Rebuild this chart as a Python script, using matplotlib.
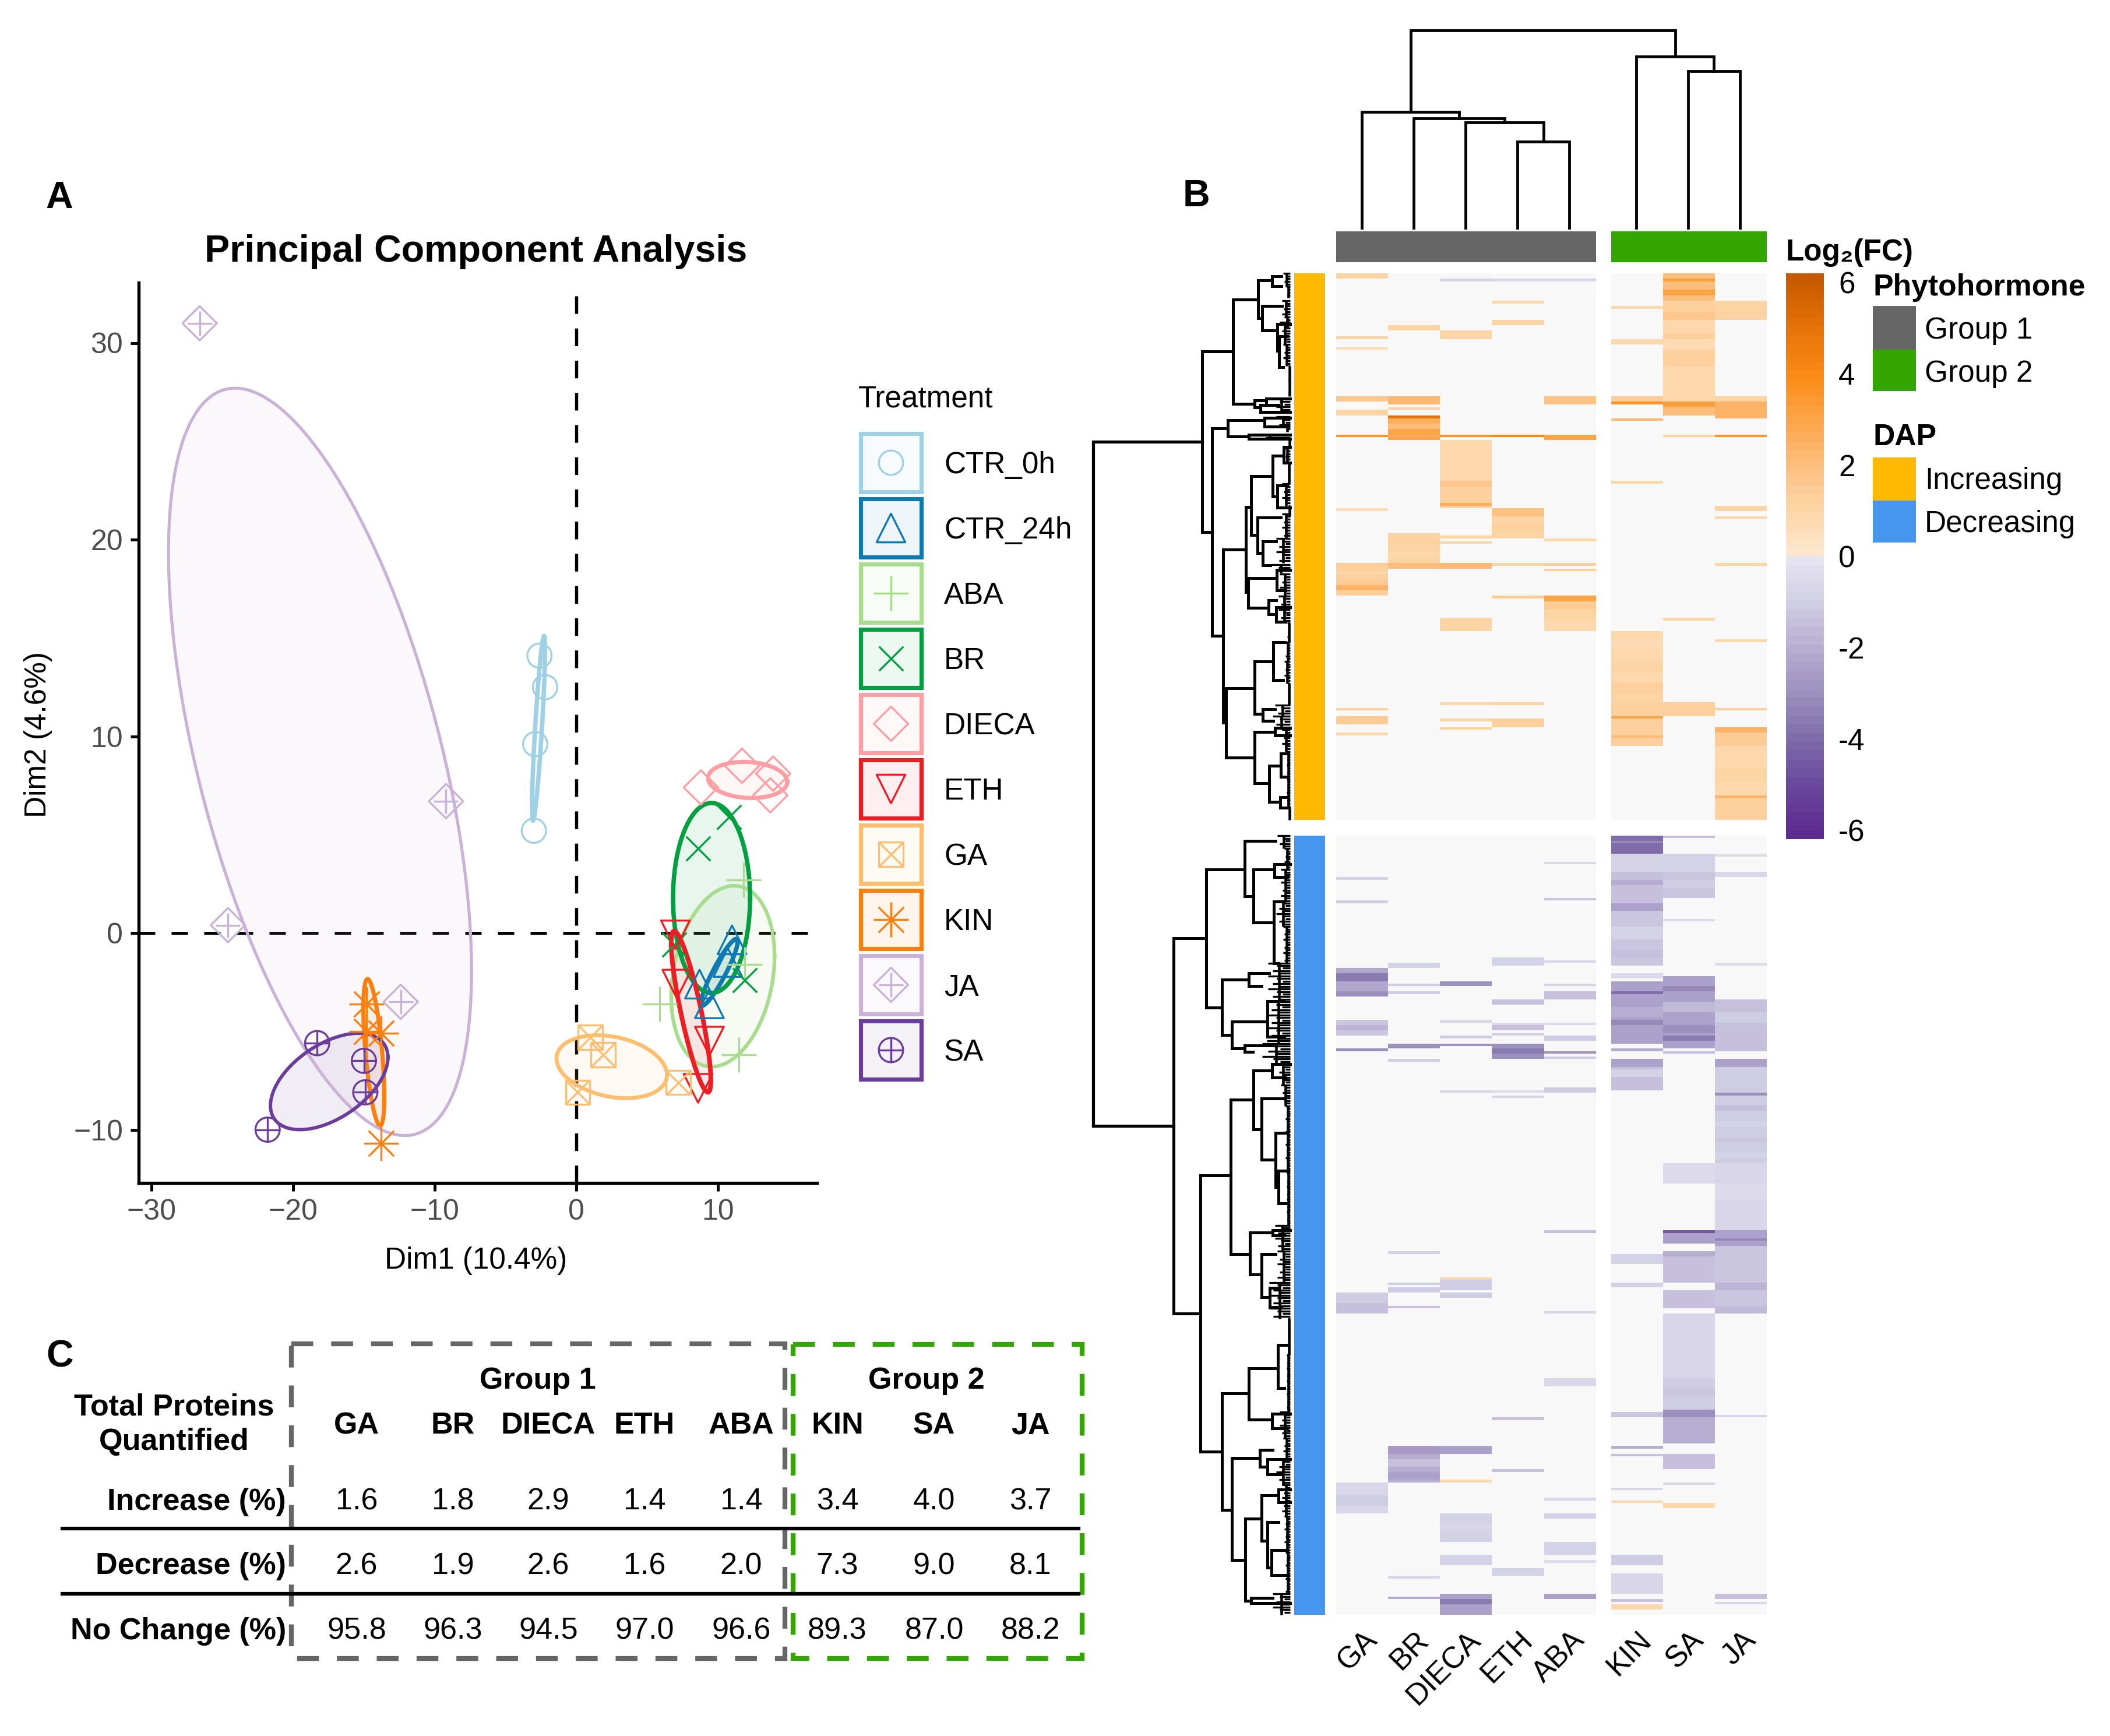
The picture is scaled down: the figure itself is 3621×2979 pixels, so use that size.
import numpy as np
import matplotlib
matplotlib.use('Agg')
import matplotlib.pyplot as plt
from matplotlib.colors import LinearSegmentedColormap, Normalize
from matplotlib.patches import Rectangle

plt.rcParams['font.family'] = ['Liberation Sans', 'DejaVu Sans']

W, H = 3621, 2979

# ---- PCA data
treatments = ['CTR_0h', 'CTR_24h', 'ABA', 'BR', 'DIECA', 'ETH', 'GA', 'KIN', 'JA', 'SA']
colors = ['#a0d0e4', '#0f7ab2', '#a8dc8e', '#00a040', '#ff9fa3', '#f01c24', '#fdbf6f', '#ff7f0e', '#cab2d6', '#6a3d9a']
dim1 = [[-2.6, -2.2, -2.9, -3.0], [11.0, 10.7, 8.7, 9.4], [11.8, 11.9, 5.9, 11.5], [10.8, 8.6, 6.9, 11.9],
        [8.8, 11.7, 13.9, 13.7], [7.0, 7.1, 9.4, 8.6], [1.0, 1.9, 0.1, 7.2], [-14.8, -14.8, -13.8, -13.8],
        [-26.6, -9.2, -24.6, -12.4], [-18.3, -15.0, -14.9, -21.8]]
dim2 = [[14.1, 12.5, 9.6, 5.2], [-0.35, -1.5, -2.6, -3.6], [2.7, -1.6, -3.6, -6.2], [5.9, 4.3, -0.6, -2.4],
        [7.4, 8.5, 8.1, 7.0], [-0.1, -2.6, -5.5, -7.9], [-5.3, -6.2, -8.1, -7.6], [-3.6, -5.0, -5.1, -10.7],
        [31.0, 6.7, 0.4, -3.5], [-5.6, -6.5, -8.1, -10.0]]
# ellipse: centre x, half width, centre y, half height, correlation
ell_xc = [-2.67, 10.1, 10.35, 9.55, 12.1, 8.1, 2.5, -14.3, -18.1, -17.45]
ell_sx = [0.46, 1.3, 3.65, 2.72, 2.8, 1.4, 3.9, 0.74, 10.7, 4.15]
ell_yc = [10.4, -2.0, -2.2, 1.78, 7.78, -4.0, -6.8, -6.07, 8.7, -7.55]
ell_sy = [4.7, 1.7, 4.6, 4.83, 0.92, 4.1, 1.6, 3.73, 19.0, 2.45]
ell_rho = [0.85, 0.92, 0.22, 0.0, -0.1, -0.85, -0.26, -0.6, -0.56, 0.5]
ell_lw = [1.8, 1.8, 1.5, 1.8, 1.7, 1.9, 1.6, 1.7, 1.25, 1.4]
marker_layers = [[('o', 100)], [('^', 140)], [('+', 210)], [('x', 100)], [('D', 100)], [('v', 140)],
                 [('s', 100), ('x', 100)], [('+', 210), ('x', 110)], [('D', 100), ('+', 100)], [('o', 100), ('+', 100)]]

# ---- heatmap data: (first row, end row, log2 FC); later bands overwrite earlier ones
columns = ['GA', 'BR', 'DIECA', 'ETH', 'ABA', 'KIN', 'SA', 'JA']
up_rows = 200
down_rows = 300
up_GA = [(0, 2, 1.0), (23, 24, 1.0), (27, 28, 0.7), (45, 47, 1.7), (50, 52, 1.0), (59, 60, 3.5), (86, 87, 0.7),
         (106, 107, 1.5), (107, 118, 1.2), (109, 110, 0.9), (112, 114, 1.5), (114, 116, 2.5), (159, 160, 1.2),
         (162, 165, 1.5), (168, 169, 0.8)]
up_BR = [(19, 21, 1.1), (45, 48, 2.3), (49, 50, 1.2), (52, 53, 5.0), (53, 60, 2.6), (55, 57, 2.0), (57, 59, 3.0),
         (60, 61, 3.0), (95, 106, 1.0), (97, 99, 1.3), (102, 104, 0.8), (106, 108, 2.0)]
up_DIECA = [(2, 3, -0.8), (21, 24, 1.0), (59, 60, 3.5), (61, 76, 0.8), (76, 85, 1.3), (76, 78, 1.7), (84, 85, 2.6),
            (85, 86, 1.2), (96, 97, 1.0), (98, 99, 1.0), (106, 108, 2.2), (126, 131, 1.0), (157, 158, 0.8),
            (163, 164, 1.0), (166, 167, 1.2)]
up_ETH = [(2, 3, -0.7), (10, 11, 0.9), (17, 19, 1.1), (59, 60, 4.0), (86, 89, 1.8), (89, 97, 1.0), (92, 94, 1.3),
          (106, 107, 1.0), (118, 119, 1.5), (157, 158, 1.0), (163, 166, 1.2)]
up_ABA = [(2, 3, -0.7), (45, 48, 1.8), (59, 61, 3.0), (97, 98, 0.8), (106, 107, 1.2), (108, 109, 1.2), (118, 120, 3.0),
          (120, 131, 1.0), (120, 123, 1.4), (127, 131, 0.8)]
up_KIN = [(12, 13, 0.8), (24, 26, 0.8), (45, 47, 1.4), (47, 48, 3.5), (53, 54, 2.3), (76, 77, 0.8), (131, 150, 0.8),
          (134, 137, 0.7), (142, 146, 1.1), (150, 162, 1.3), (154, 157, 1.0), (162, 163, 3.0), (163, 173, 1.3),
          (169, 170, 2.2)]
up_SA = [(0, 10, 2.0), (2, 3, 3.2), (6, 8, 3.0), (10, 14, 1.2), (14, 17, 1.6), (17, 22, 0.9), (22, 24, 1.2),
         (24, 28, 0.6), (28, 34, 1.2), (34, 47, 0.9), (47, 49, 3.2), (49, 52, 2.0), (59, 60, 1.0), (126, 127, 1.0),
         (157, 162, 1.3)]
up_JA = [(10, 17, 1.0), (14, 15, 1.3), (45, 47, 1.0), (47, 53, 2.5), (59, 60, 3.5), (85, 87, 1.0), (89, 90, 0.8),
         (106, 107, 1.0), (134, 135, 0.8), (159, 160, 1.3), (166, 168, 2.5), (168, 173, 1.5), (173, 191, 0.8),
         (181, 186, 1.0), (191, 192, 2.5), (192, 200, 1.2)]
down_GA = [(16, 17, -0.8), (25, 26, -1.0), (51, 62, -2.2), (53, 56, -3.5), (60, 62, -3.0), (71, 77, -1.2), (73, 75, -1.8),
           (82, 83, -3.0), (176, 184, -1.0), (180, 184, -1.4), (249, 261, -0.7), (254, 258, -1.0)]
down_BR = [(49, 51, -0.8), (57, 58, -1.0), (60, 61, -1.0), (80, 82, -3.0), (86, 87, -1.0), (160, 161, -0.8),
           (172, 173, -1.0), (174, 176, -1.0), (181, 182, -1.5), (235, 249, -2.0), (235, 238, -2.6), (240, 243, -1.5),
           (245, 248, -2.4), (285, 286, -0.7), (293, 294, -2.0)]
down_DIECA = [(56, 58, -3.0), (71, 72, -0.7), (77, 78, -1.0), (80, 81, -3.0), (98, 99, -0.7), (170, 171, 0.9),
              (171, 175, -1.0), (176, 178, -1.0), (235, 238, -2.5), (248, 249, 0.9), (261, 272, -0.8), (265, 267, -0.6),
              (277, 281, -0.8), (292, 300, -2.5), (294, 296, -3.6)]
down_ETH = [(47, 50, -0.9), (63, 65, -1.5), (72, 73, -0.5), (73, 75, -1.5), (76, 77, -0.8), (80, 86, -3.0), (82, 84, -3.6),
            (98, 99, -0.5), (100, 101, -0.7), (224, 225, -1.5), (244, 245, -1.5), (282, 285, -0.9)]
down_ABA = [(10, 11, -0.7), (24, 25, -1.2), (48, 49, -0.7), (57, 58, -0.8), (60, 63, -1.4), (72, 73, -0.5), (77, 79, -1.1),
            (83, 84, -3.0), (85, 86, -1.0), (97, 99, -1.0), (152, 153, -1.5), (183, 184, -0.6), (209, 212, -0.6),
            (255, 256, -0.7), (261, 263, -0.8), (272, 277, -0.8), (279, 280, -0.5), (292, 294, -2.5)]
down_KIN = [(0, 7, -4.0), (2, 3, -3.2), (7, 14, -0.8), (14, 26, -1.5), (17, 19, -2.0), (26, 29, -2.5), (29, 50, -1.2),
            (35, 40, -0.9), (44, 47, -1.4), (53, 55, -0.5), (56, 80, -2.5), (60, 61, -4.0), (66, 70, -2.0), (71, 73, -3.2),
            (82, 83, -2.0), (86, 98, -1.4), (86, 89, -2.5), (90, 93, -0.9), (161, 165, -0.8), (172, 174, -0.8),
            (222, 224, -1.3), (235, 236, -2.0), (238, 239, -1.5), (251, 252, -0.7), (256, 257, 0.8), (277, 281, -1.0),
            (284, 292, -0.6), (294, 295, -1.5), (296, 298, 0.9)]
down_SA = [(0, 1, -1.5), (7, 14, -0.8), (14, 24, -1.3), (17, 20, -1.0), (32, 33, -0.5), (54, 82, -2.5), (58, 60, -3.2),
           (64, 68, -1.7), (73, 76, -3.0), (77, 79, -3.6), (83, 84, -1.5), (126, 134, -0.5), (152, 157, -2.5),
           (152, 153, -4.6), (160, 172, -1.4), (160, 162, -2.0), (175, 182, -1.4), (184, 209, -0.7), (209, 221, -1.0),
           (213, 216, -1.3), (221, 224, -3.0), (224, 234, -2.0), (238, 244, -1.5), (249, 250, -0.6), (257, 259, 0.8)]
down_JA = [(7, 8, -0.5), (14, 16, -0.6), (49, 50, -0.5), (63, 83, -1.4), (68, 72, -1.1), (86, 89, -2.5), (89, 99, -1.1),
           (99, 100, -3.0), (100, 126, -1.0), (104, 106, -1.4), (110, 112, -0.8), (116, 118, -1.3), (122, 124, -0.8),
           (126, 152, -0.6), (134, 140, -0.5), (152, 158, -2.5), (155, 156, -3.2), (158, 184, -1.3), (172, 175, -1.8),
           (181, 184, -1.6), (223, 224, -0.7), (292, 294, -1.5), (295, 296, -0.7)]
up_bands = [up_GA, up_BR, up_DIECA, up_ETH, up_ABA, up_KIN, up_SA, up_JA]
down_bands = [down_GA, down_BR, down_DIECA, down_ETH, down_ABA, down_KIN, down_SA, down_JA]

# ---- colour scale
scale_vals = [-6.2, -5, -4, -3, -2, -1, -0.02, 0.02, 1, 2, 3, 4, 5, 6.2]
scale_cols = ['#5d2a8f', '#6b4b9d', '#7f6fab', '#9e92c0', '#b9afd3', '#d2d0e5', '#e8e6f1',
              '#fee8d0', '#fdd7a9', '#fdbf7f', '#fda64b', '#fb8c16', '#e8750a', '#c65a00']

# ---- dendrograms: (height, row top, row bottom, child height top, child height bottom)
up_links = [(150.7, 28.6, 94.7, 98, 134), (98, 9.5, 47.8, 55, 60.7), (55, 2.6, 16.5, 30.7, 48.3),
            (48.3, 11.9, 20.9, 14, 22.3), (30.7, 1, 4.6, 15, 15), (22.3, 18.5, 28.4, 0, 19), (19, 23.1, 34.3, 5, 12),
            (60.7, 46.5, 49.1, 40.7, 50.7), (40.7, 45.9, 48.2, 0, 20), (50.7, 48.2, 50.8, 20, 0),
            (134, 56.8, 132.7, 107.3, 115), (107.3, 53.7, 59.7, 44, 70.7), (44, 52.8, 56.1, 0, 10), (70.7, 59.1, 60.5, 0, 0),
            (115, 101, 164.4, 75.7, 110), (110, 151.8, 177.2, 60.7, 61.3), (75.7, 85.4, 116.6, 66.7, 72.3),
            (66.7, 74.2, 95.7, 30, 56.3), (30, 66.7, 81.6, 10.7, 21.7), (10.7, 63.6, 69.3, 0, 0), (21.7, 77.6, 85.8, 5, 0),
            (56.3, 89.4, 102.3, 15.7, 47.3), (47.3, 98, 106.9, 24, 34), (72.3, 111.6, 122.4, 23.3, 37.3),
            (23.3, 108.5, 115.9, 0, 8), (37.3, 119.5, 124.8, 24, 24), (24, 122.1, 127.4, 0, 8),
            (60.7, 141.9, 161.1, 29, 47.3), (29, 134.9, 148.8, 9, 12.3), (47.3, 159.5, 163.7, 25.7, 29),
            (61.3, 167.7, 186.5, 25.7, 35.7), (25.7, 166.3, 169, 0, 0), (35.7, 180.2, 193.4, 15.7, 17.3),
            (15.7, 175.6, 184.2, 5, 6), (17.3, 191.7, 195.4, 5, 5)]
down_links = [(200, 39.4, 183.9, 144, 154), (144, 13, 66.2, 78, 117.3), (78, 1.9, 23.4, 25, 63.3), (63.3, 13, 33.5, 27.3, 28),
              (27.3, 11, 16, 0, 5), (28, 25.3, 49, 10, 20), (117.3, 55.3, 76.8, 70.7, 100), (70.7, 53, 57.9, 35.7, 49),
              (100, 71.5, 81.8, 39, 78), (39, 63.7, 77.3, 10, 10), (78, 80.7, 83.2, 30, 64), (154, 130.9, 237.1, 102.3, 117.3),
              (102.3, 101.7, 161.1, 63.3, 69), (63.3, 90.4, 113, 30.7, 49), (30.7, 88, 93, 0, 8), (49, 101.1, 124.7, 10, 25),
              (25, 114.4, 135.2, 8, 20), (20, 129, 141.6, 3, 6), (69, 152.7, 168.9, 30, 49), (30, 152, 154, 0, 10),
              (49, 161.1, 177.7, 25, 35), (35, 174.2, 181.6, 20, 15), (117.3, 214.7, 259.5, 70.7, 100), (70.7, 205, 224.8, 20.7, 30.7),
              (20.7, 196.2, 212.7, 6, 10), (30.7, 222.5, 228.3, 0, 5), (100, 239.6, 279, 52.3, 77.3), (52.3, 236.5, 242.9, 30, 39),
              (39, 240, 245.9, 0, 15), (77.3, 263, 294.6, 49, 67.3), (49, 254, 271.6, 20, 39), (20, 251.7, 256.6, 0, 0),
              (39, 264.4, 281.9, 20, 32), (32, 275, 284.8, 5, 5), (67.3, 293.6, 295.5, 30, 0)]
# dense leaf groups: first row, end row, height
up_leaves = [(0, 5, 12), (5, 9, 6), (10, 16, 14), (16, 20, 10), (18, 26, 18), (26, 34, 12), (34, 45, 3), (45.9, 51, 30),
             (52.5, 56, 24), (56, 58, 10), (59.2, 60.5, 70), (61, 64, 3), (64, 69, 10), (69, 77, 4), (77, 85, 14), (85, 89, 3),
             (88, 97, 14), (97, 106, 24), (106.7, 109.6, 33), (110, 118, 18), (118, 128, 20), (128, 135, 5), (135, 142, 8),
             (142, 150, 10), (150, 158, 4), (158, 162, 26), (162, 167, 30), (167, 175, 14), (175, 185, 6), (185, 195, 6), (195, 200, 3)]
down_leaves = [(0, 5, 22), (5, 13, 10), (13, 25, 16), (25, 35, 24), (35, 49, 12), (49, 64, 38), (64, 80, 40), (80, 88, 48),
               (88, 96, 24), (96, 104, 16), (104, 114, 8), (114, 130, 8), (130, 150, 6), (150, 160, 26), (160, 172, 22),
               (172, 186, 36), (186, 200, 4), (200, 222, 6), (222, 232, 18), (232, 240, 12), (240, 250, 24), (250, 262, 14),
               (262, 276, 10), (276, 292, 8), (292, 300, 30)]
leaf_cycle = [1.0, 0.6, 0.35, 0.8, 0.5]

# ---- table data
table_rows = ['Increase (%)', 'Decrease (%)', 'No Change (%)']
increase = ['1.6', '1.8', '2.9', '1.4', '1.4', '3.4', '4.0', '3.7']
decrease = ['2.6', '1.9', '2.6', '1.6', '2.0', '7.3', '9.0', '8.1']
no_change = ['95.8', '96.3', '94.5', '97.0', '96.6', '89.3', '87.0', '88.2']

fig = plt.figure(figsize=(W / 300, H / 300), dpi=300, facecolor='white')


def axes_px(x0, y0, x1, y1):
    return fig.add_axes([x0 / W, 1 - y1 / H, (x1 - x0) / W, (y1 - y0) / H])


# ---- panel A
ax = axes_px(238, 485, 1402, 2030)
ax.set_xlim((238 - 989) / 24.3, (1402 - 989) / 24.3)
ax.set_ylim((1601 - 2030) / 33.75, (1601 - 485) / 33.75)
t = np.linspace(0, 2 * np.pi, 200)
ax.axhline(0, color='black', lw=1.2, ls=(0, (5.6, 5.6)), zorder=1)
ax.axvline(0, color='black', lw=1.3, ls=(0, (5.6, 4.6)), zorder=1)
for i, name in enumerate(treatments):
    ex = ell_xc[i] + ell_sx[i] * np.cos(t)
    ey = ell_yc[i] + ell_sy[i] * (ell_rho[i] * np.cos(t) + np.sqrt(1 - ell_rho[i] ** 2) * np.sin(t))
    ax.fill(ex, ey, facecolor=colors[i], alpha=0.09, edgecolor='none', zorder=2)
    ax.plot(ex, ey, color=colors[i], lw=ell_lw[i], zorder=3)
    for m, s in marker_layers[i]:
        if m in ('+', 'x'):
            ax.scatter(dim1[i], dim2[i], marker=m, s=s, color=colors[i], linewidths=0.8, zorder=4, clip_on=False)
        else:
            ax.scatter(dim1[i], dim2[i], marker=m, s=s, facecolors='none', edgecolors=colors[i], linewidths=0.8,
                       zorder=4, clip_on=False)
for side in ['top', 'right']:
    ax.spines[side].set_visible(False)
for side in ['left', 'bottom']:
    ax.spines[side].set_linewidth(1.3)
ax.set_xticks([-30, -20, -10, 0, 10])
ax.set_yticks([-10, 0, 10, 20, 30])
ax.set_xticklabels(['\u221230', '\u221220', '\u221210', '0', '10'])
ax.set_yticklabels(['\u221210', '0', '10', '20', '30'])
ax.tick_params(length=3.4, width=1.2, labelsize=12, labelcolor='#4d4d4d', pad=3)

# ---- panel B heatmap
cmap = LinearSegmentedColormap.from_list(
    'fc', [((v + 6.2) / 12.4, c) for v, c in zip(scale_vals, scale_cols)], N=64)
cmap.set_bad('#f8f8f8')
norm = Normalize(-6.2, 6.2)


def build_matrix(bands, n):
    mat = np.full((n, len(bands)), np.nan)
    for j, col in enumerate(bands):
        for r0, r1, v in col:
            mat[r0:r1, j] = v
    return np.ma.masked_invalid(mat)


up_mat = build_matrix(up_bands, up_rows)
down_mat = build_matrix(down_bands, down_rows)
col_spans = [(2293, 2739, 0, 5), (2765, 3032, 5, 8)]
row_spans = [(469, 1407, up_mat), (1434, 2771, down_mat)]
for y0, y1, mat in row_spans:
    for x0, x1, c0, c1 in col_spans:
        hax = axes_px(x0, y0, x1, y1)
        hax.imshow(mat[:, c0:c1], cmap=cmap, norm=norm, aspect='auto', interpolation='nearest')
        hax.axis('off')

# annotations
for x0, x1, c in [(2293, 2739, '#666666'), (2765, 3032, '#33a602')]:
    a = axes_px(x0, 397, x1, 450)
    a.set_facecolor(c)
    a.set_xticks([])
    a.set_yticks([])
    for s in a.spines.values():
        s.set_visible(False)
for y0, y1, c in [(469, 1407, '#ffb900'), (1434, 2771, '#4695ee')]:
    a = axes_px(2221, y0, 2274, y1)
    a.set_facecolor(c)
    a.set_xticks([])
    a.set_yticks([])
    for s in a.spines.values():
        s.set_visible(False)

# column dendrogram
col_x = [0.5, 1.5, 2.5, 3.5, 4.5, 5.79, 6.79, 7.79]
cd = axes_px(2293, 52, 3032, 391)
cd.set_xlim(0, 8.31)
cd.set_ylim(0, 339)
cd.axis('off')


def col_link(xa, ha, xb, hb, h):
    cd.plot([xa, xa, xb, xb], [ha, h, h, hb], color='black', lw=1.15, clip_on=False, solid_joinstyle='miter')
    return (xa + xb) / 2


n1 = col_link(col_x[3], 0, col_x[4], 0, 148)
n2 = col_link(col_x[2], 0, n1, 148, 181)
n3 = col_link(col_x[1], 0, n2, 181, 188)
n4 = col_link(col_x[0], 0, n3, 188, 199)
n5 = col_link(col_x[6], 0, col_x[7], 0, 269)
n6 = col_link(col_x[5], 0, n5, 269, 294)
col_link(n4, 199, n6, 294, 339)

# row dendrogram
rd = axes_px(1876, 469, 2214, 2771)
rd.set_xlim(338, 0)
rd.set_ylim(490.76, 0)
rd.axis('off')


def low(r):
    return 205.76 + r * 0.95


def draw_links(links, conv):
    for h, r0, r1, h0, h1 in links:
        rd.plot([h0, h, h, h1], [conv(r0), conv(r0), conv(r1), conv(r1)], color='black', lw=1.2,
                clip_on=False, solid_joinstyle='miter')


def draw_leaves(groups, conv):
    for r0, r1, h in groups:
        rows = np.arange(r0, r1, 1.0)
        lengths = [h * leaf_cycle[k % 5] for k in range(len(rows))]
        rd.hlines(conv(rows), 0, lengths, color='black', lw=0.8, clip_on=False)
        rd.vlines(h * 0.5, conv(r0), conv(r1), color='black', lw=1.1, clip_on=False)


draw_links(up_links, lambda r: r)
draw_links(down_links, low)
draw_leaves(up_leaves, lambda r: r)
draw_leaves(down_leaves, low)
rd.plot([150.7, 338, 338, 200], [61.6, 61.6, low(111.8), low(111.8)], color='black', lw=1.25, clip_on=False,
        solid_joinstyle='miter')

# colour bar
cb = axes_px(3065, 469, 3130, 1440)
grad = np.linspace(6.2, -6.2, 64).reshape(-1, 1)
cb.imshow(grad, cmap=cmap, norm=norm, aspect='auto', extent=[0, 1, -6.2, 6.2])
cb.set_xticks([])
cb.yaxis.tick_right()
cb.set_yticks([6, 4, 2, 0, -2, -4, -6])
cb.set_yticklabels(['6', '4', '2', '0', '-2', '-4', '-6'])
cb.tick_params(length=0, labelsize=12.3, pad=6)
for lab in cb.get_yticklabels():
    lab.set_ha('left')
for s in cb.spines.values():
    s.set_visible(False)

# ---- text, legends and table on one overlay in picture pixels
ov = fig.add_axes([0, 0, 1, 1], facecolor='none')
ov.set_xlim(0, W)
ov.set_ylim(H, 0)
ov.axis('off')


def txt(x, y, s, size=12.3, **kw):
    kw.setdefault('ha', 'center')
    kw.setdefault('va', 'center')
    ov.text(x, y + 5, s, fontsize=size, **kw)


txt(102, 335, 'A', 15.5, fontweight='bold')
txt(2053, 332, 'B', 15.5, fontweight='bold')
txt(103, 2323, 'C', 15.5, fontweight='bold')
txt(817, 427, 'Principal Component Analysis', 15.5, fontweight='bold')
txt(817, 2159, 'Dim1 (10.4%)')
txt(66, 1256, 'Dim2 (4.6%)', rotation=90)

# treatment legend
txt(1473, 680, 'Treatment', ha='left')
for i, name in enumerate(treatments):
    top = 741 + i * 112
    ov.add_patch(Rectangle((1477, top + 3), 104, 100, facecolor=colors[i], alpha=0.07, edgecolor='none'))
    ov.add_patch(Rectangle((1477, top + 3), 104, 100, facecolor='none', edgecolor=colors[i], lw=1.7))
    cy = top + 53
    for m, s in marker_layers[i]:
        if m in ('+', 'x'):
            ov.scatter([1529], [cy], marker=m, s=s, color=colors[i], linewidths=0.8)
        else:
            ov.scatter([1529], [cy], marker=m, s=s, facecolors='none', edgecolors=colors[i], linewidths=0.8)
    txt(1620, cy, name, ha='left')

# heatmap legends
txt(3065, 429, 'Log\u2082(FC)', 12.3, fontweight='bold', ha='left')
txt(3214, 489, 'Phytohormone', 12.4, fontweight='bold', ha='left')
txt(3214, 746, 'DAP', 12.4, fontweight='bold', ha='left')
legend_keys = [(525, 600, '#666666', 'Group 1', 562), (600, 671, '#33a602', 'Group 2', 636),
               (785, 859, '#ffb900', 'Increasing', 821), (859, 931, '#4695ee', 'Decreasing', 894)]
for y0, y1, c, lab, ty in legend_keys:
    ov.add_patch(Rectangle((3214, y0), 74, y1 - y0, facecolor=c, edgecolor='none'))
    txt(3303, ty, lab, ha='left')

# heatmap column labels
label_x = [2338, 2427, 2516, 2605, 2694, 2809, 2898, 2987]
for x, lab in zip(label_x, columns):
    txt(x + 18, 2802, lab, rotation=45, ha='right', rotation_mode='anchor')

# table
table_x = [612, 777, 941, 1106, 1272, 1437, 1603, 1768]
table_y = [2572, 2683, 2794]
txt(923, 2365, 'Group 1', 12.5, fontweight='bold')
txt(1590, 2365, 'Group 2', 12.5, fontweight='bold')
txt(299, 2410, 'Total Proteins', 12.5, fontweight='bold')
txt(299, 2470, 'Quantified', 12.5, fontweight='bold')
for x, lab in zip(table_x, columns):
    txt(x, 2442, lab, 12.5, fontweight='bold')
for y, lab, vals in zip(table_y, table_rows, [increase, decrease, no_change]):
    txt(491, y, lab, 12.5, fontweight='bold', ha='right')
    for x, v in zip(table_x, vals):
        txt(x, y, v, 12.5)
ov.plot([107, 1851], [2623, 2623], color='black', lw=1.5)
ov.plot([107, 1851], [2735, 2735], color='black', lw=1.5)
ov.add_patch(Rectangle((500, 2306), 847, 540, facecolor='none', edgecolor='#666666', lw=2.0, ls=(0, (4.5, 3.7))))
ov.add_patch(Rectangle((1361, 2307), 496, 539, facecolor='none', edgecolor='#33a602', lw=2.0, ls=(0, (4.5, 3.7))))

fig.savefig('out.png', dpi=300, facecolor='white')
